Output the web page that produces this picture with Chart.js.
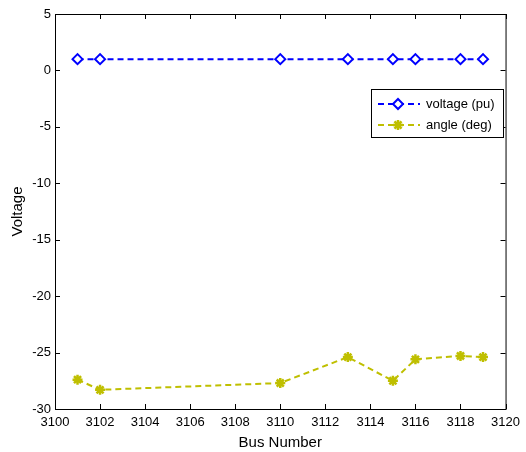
<!DOCTYPE html>
<html>
<head>
<meta charset="utf-8">
<script src="https://cdn.jsdelivr.net/npm/chart.js@4"></script>
<style>
  html, body { margin: 0; padding: 0; background: #fff; }
  #wrap { width: 526px; height: 452px; }
</style>
</head>
<body>
<div id="wrap"><canvas id="chart" width="526" height="452"></canvas></div>
<script>
// data
const busNumbers = [3101, 3102, 3110, 3113, 3115, 3116, 3118, 3119];
const voltagePu = [1, 1, 1, 1, 1, 1, 1, 1];
const angleDeg = [-27.4, -28.3, -27.7, -25.4, -27.5, -25.6, -25.3, -25.4];
const seriesNames = ['voltage (pu)', 'angle (deg)'];
const xTicks = [3100, 3120, 2];
const yTicks = [-30, 5, 5];

const FONT = 'Liberation Sans, Arial, sans-serif';
const BLUE = '#0000ff';
const YEL = '#bfbf00';

function toPoints(ys) {
    return busNumbers.map((b, i) => ({ x: b, y: ys[i] }));
}

// matlab-like box with inward ticks on all sides, plus legend inside
const boxPlugin = {
    id: 'box',
    afterDraw(chart) {
        const c = chart.ctx, a = chart.chartArea;
        const xs = chart.scales.x, ys = chart.scales.y;
        c.save();
        c.strokeStyle = '#000';
        c.lineWidth = 1;
        c.strokeRect(a.left + 0.5, a.top + 0.5, a.right - a.left, a.bottom - a.top);
        c.beginPath();
        xs.ticks.forEach(t => {
            const px = Math.round(xs.getPixelForValue(t.value)) + 0.5;
            c.moveTo(px, a.bottom); c.lineTo(px, a.bottom - 5);
            c.moveTo(px, a.top); c.lineTo(px, a.top + 5);
        });
        ys.ticks.forEach(t => {
            const py = Math.round(ys.getPixelForValue(t.value)) + 0.5;
            c.moveTo(a.left, py); c.lineTo(a.left + 5, py);
            c.moveTo(a.right, py); c.lineTo(a.right - 5, py);
        });
        c.stroke();

        // legend
        const lx = 371, ly = 89, lw = 132, lh = 48;
        c.fillStyle = '#fff';
        c.fillRect(lx, ly, lw, lh);
        c.strokeStyle = '#000';
        c.strokeRect(lx + 0.5, ly + 0.5, lw, lh);
        chart.data.datasets.forEach((ds, i) => {
            const y = ly + 15 + i * 21;
            c.strokeStyle = ds.borderColor;
            c.lineWidth = 2;
            c.setLineDash([6, 4]);
            c.beginPath();
            c.moveTo(lx + 7, y); c.lineTo(lx + 49, y);
            c.stroke();
            c.setLineDash([]);
            c.fillStyle = ds.pointBackgroundColor;
            c.strokeStyle = ds.borderColor;
            c.lineWidth = ds.pointBorderWidth;
            Chart.helpers.drawPoint(c, {
                pointStyle: ds.pointStyle, radius: ds.pointRadius,
                borderWidth: ds.pointBorderWidth
            }, lx + 27, y);
            c.fillStyle = '#000';
            c.font = '13px ' + FONT;
            c.textBaseline = 'middle';
            c.fillText(ds.label, lx + 55, y);
        });
        c.restore();
    }
};

new Chart(document.getElementById('chart').getContext('2d'), {
    type: 'line',
    data: {
        datasets: [
            {
                label: seriesNames[0], data: toPoints(voltagePu),
                borderColor: BLUE, borderWidth: 2, borderDash: [6, 4],
                pointStyle: 'rectRot', pointRadius: 5, pointBorderWidth: 2,
                pointBackgroundColor: '#fff', pointBorderColor: BLUE,
                fill: false, tension: 0
            },
            {
                label: seriesNames[1], data: toPoints(angleDeg),
                borderColor: YEL, borderWidth: 2, borderDash: [6, 4],
                pointStyle: 'star', pointRadius: 5, pointBorderWidth: 2.5,
                pointBackgroundColor: YEL, pointBorderColor: YEL,
                fill: false, tension: 0
            }
        ]
    },
    options: {
        responsive: false,
        animation: false,
        layout: { padding: { top: 14, right: 14, left: 0, bottom: 0 } },
        plugins: { legend: { display: false }, tooltip: { enabled: false } },
        scales: {
            x: {
                type: 'linear', min: xTicks[0], max: xTicks[1],
                grid: { display: false, drawTicks: false },
                border: { display: false },
                ticks: {
                    stepSize: xTicks[2], padding: 6, color: '#000',
                    font: { family: FONT, size: 13 },
                    callback: v => String(v)
                },
                title: {
                    display: true, text: 'Bus Number', color: '#000',
                    font: { family: FONT, size: 15 }, padding: { top: 5, bottom: 0 }
                },
                afterFit(s) { s.height = 43; }
            },
            y: {
                min: yTicks[0], max: yTicks[1],
                grid: { display: false, drawTicks: false },
                border: { display: false },
                ticks: {
                    stepSize: yTicks[2], padding: 4, color: '#000',
                    font: { family: FONT, size: 13 },
                    callback: v => String(v)
                },
                title: {
                    display: true, text: 'Voltage', color: '#000',
                    font: { family: FONT, size: 15 }, padding: { top: 9, bottom: 0 }
                },
                afterFit(s) { s.width = 55; }
            }
        }
    },
    plugins: [boxPlugin]
});
</script>
</body>
</html>
